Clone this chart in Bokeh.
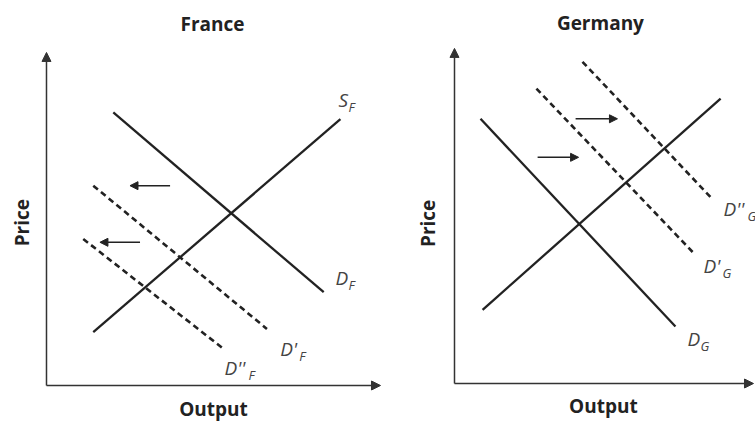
import math
from bokeh.plotting import figure
from bokeh.layouts import row
from bokeh.models import Arrow, NormalHead, Label, Range1d
from bokeh.embed import file_html
from bokeh.resources import INLINE

# ---------------- data (Output on x, Price on y, arbitrary units 0..10) -------------
# France
fr_S_x, fr_S_y = [1.4, 8.8], [1.6, 8.0]
fr_D_x, fr_D_y = [2.0, 8.3], [8.2, 2.8]
fr_D1_x, fr_D1_y = [1.4, 6.6], [6.0, 1.7]
fr_D2_x, fr_D2_y = [1.1, 5.3], [4.4, 1.1]
fr_shift_from = [3.7, 2.8]
fr_shift_to = [2.5, 1.6]
fr_shift_y = [6.0, 4.3]
fr_lab_main = ["S", "D", "D'", "D''"]
fr_lab_sub = ["F", "F", "F", "F"]
fr_lab_x = [8.74, 8.65, 7.0, 5.33]
fr_lab_y = [8.56, 3.24, 1.11, 0.54]
fr_sub_dx = [10, 13, 19, 24]

# Germany
de_S_x, de_S_y = [0.94, 8.9], [2.2, 8.5]
de_D_x, de_D_y = [0.87, 7.39], [7.9, 1.7]
de_D1_x, de_D1_y = [2.74, 7.99], [8.8, 3.9]
de_D2_x, de_D2_y = [4.28, 8.63], [9.6, 5.5]
de_shift_from = [4.05, 2.78]
de_shift_to = [5.45, 4.15]
de_shift_y = [7.9, 6.75]
de_lab_main = ["D''", "D'", "D"]
de_lab_sub = ["G", "G", "G"]
de_lab_x = [9.0, 8.33, 7.79]
de_lab_y = [5.22, 3.52, 1.34]
de_sub_dx = [24, 19, 13]

AX_MAX = 10
FONT = "Open Sans"
INK = "#222222"
LABC = "#444444"


def panel(title, width, xr, yr, title_xy, output_xy, price_xy,
          solids, dashes, shift_from, shift_to, shift_y,
          lab_main, lab_sub, lab_x, lab_y, sub_dx):
    p = figure(width=width, height=421, x_range=Range1d(*xr), y_range=Range1d(*yr),
               toolbar_location=None, output_backend="svg", min_border=0)
    p.axis.visible = False
    p.grid.visible = False
    p.outline_line_color = None

    # axes with arrow tips
    p.add_layout(Arrow(x_start=0, y_start=0, x_end=AX_MAX, y_end=0, line_width=1.5,
                       line_color="#333333",
                       end=NormalHead(size=9, fill_color="#333333", line_color="#333333")))
    p.add_layout(Arrow(x_start=0, y_start=0, x_end=0, y_end=AX_MAX, line_width=1.5,
                       line_color="#333333",
                       end=NormalHead(size=9, fill_color="#333333", line_color="#333333")))

    for xs, ys in solids:
        p.line(xs, ys, line_width=2.3, line_color=INK)
    for xs, ys in dashes:
        p.line(xs, ys, line_width=2.6, line_color=INK, line_dash="6 4")

    for x0, x1, y in zip(shift_from, shift_to, shift_y):
        p.add_layout(Arrow(x_start=x0, y_start=y, x_end=x1, y_end=y, line_width=1.5,
                           line_color=INK,
                           end=NormalHead(size=8, fill_color=INK, line_color=INK)))

    for m, s, x, y, dx in zip(lab_main, lab_sub, lab_x, lab_y, sub_dx):
        p.add_layout(Label(x=x, y=y, text=m, text_font=FONT, text_font_style="italic",
                           text_font_size="19px", text_color=LABC,
                           text_baseline="middle", text_align="left"))
        p.add_layout(Label(x=x, y=y, x_offset=dx, y_offset=-7, text=s, text_font=FONT,
                           text_font_style="italic", text_font_size="13px",
                           text_color=LABC, text_baseline="middle", text_align="left"))

    p.add_layout(Label(x=title_xy[0], y=title_xy[1], text=title, text_font=FONT,
                       text_font_style="bold", text_font_size="19px", text_color=INK,
                       text_align="center", text_baseline="middle"))
    p.add_layout(Label(x=output_xy[0], y=output_xy[1], text="Output", text_font=FONT,
                       text_font_style="bold", text_font_size="19px", text_color=INK,
                       text_align="center", text_baseline="middle"))
    p.add_layout(Label(x=price_xy[0], y=price_xy[1], text="Price", angle=math.pi / 2,
                       text_font=FONT, text_font_style="bold", text_font_size="19px",
                       text_color=INK, text_align="center", text_baseline="middle"))
    return p


p1 = panel("France", 382, (-1.377, 10.06), (-1.081, 11.56),
           (4.97, 10.84), (5.0, -0.70), (-0.72, 4.89),
           [(fr_S_x, fr_S_y), (fr_D_x, fr_D_y)],
           [(fr_D1_x, fr_D1_y), (fr_D2_x, fr_D2_y)],
           fr_shift_from, fr_shift_to, fr_shift_y,
           fr_lab_main, fr_lab_sub, fr_lab_x, fr_lab_y, fr_sub_dx)

p2 = panel("Germany", 373, (-2.408, 10.067), (-1.134, 11.43),
           (4.88, 10.75), (4.98, -0.68), (-0.90, 4.78),
           [(de_S_x, de_S_y), (de_D_x, de_D_y)],
           [(de_D1_x, de_D1_y), (de_D2_x, de_D2_y)],
           de_shift_from, de_shift_to, de_shift_y,
           de_lab_main, de_lab_sub, de_lab_x, de_lab_y, de_sub_dx)

layout = row(p1, p2)
open("out.html", "w").write(file_html(layout, INLINE))
